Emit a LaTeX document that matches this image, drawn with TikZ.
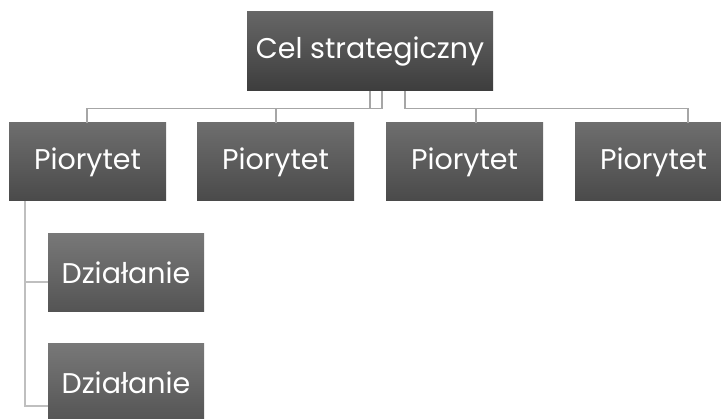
\documentclass[tikz,border=0pt]{standalone}
\usepackage{fontspec}
\setmainfont{Poppins}
\definecolor{linegray}{HTML}{A6A6A6}
\definecolor{linelight}{HTML}{BFBFBF}
\begin{document}
\begin{tikzpicture}[x=1pt,y=-1pt,
  box/.style={draw=none,minimum height=79pt,inner sep=0pt,text=white,font=\fontsize{28.5}{32}\selectfont},
  topbox/.style={box,minimum width=246pt,top color=black!60,bottom color=black!76},
  pbox/.style={box,minimum width=157pt,minimum height=78pt,top color=black!57,bottom color=black!71},
  dbox/.style={box,minimum width=156pt,minimum height=78pt,top color=black!53,bottom color=black!67},
  conn/.style={draw=linegray,line width=1.5pt},
  connl/.style={draw=linelight,line width=1.5pt}]
\clip (0,0) rectangle (721,419);
\fill[white] (0,0) rectangle (721,419);
% x positions of connectors
\coordinate (a1) at (370,0);
\coordinate (a2) at (382,0);
\coordinate (a3) at (405,0);
\coordinate (a4) at (405,0);
\coordinate (b1) at (87,0);
\coordinate (b2) at (276,0);
\coordinate (b3) at (476,0);
\coordinate (b4) at (688,0);
\coordinate (hy) at (0,108.5);
\coordinate (lx) at (25,0);
\coordinate (h1) at (0,282);
\coordinate (h2) at (0,406);
\node[topbox] (top) at (370,51.5) {Cel strategiczny};
\node[pbox] (p1) at (87.5,162) {Piorytet};
\node[pbox] (p2) at (275.5,162) {Piorytet};
\node[pbox] (p3) at (464.5,162) {Piorytet};
\node[pbox] (p4) at (653.5,162) {Piorytet};
\node[dbox] (d1) at (126,272.5) {Działanie};
\node[dbox] (d2) at (126,382.5) {Działanie};
\draw[conn] (top.south -| a1) -- (a1 |- hy) -- (b1 |- hy) -- (p1.north -| b1);
\draw[conn] (top.south -| a2) -- (a2 |- hy) -- (b2 |- hy) -- (p2.north -| b2);
\draw[conn] (top.south -| a3) -- (a3 |- hy) -- (b3 |- hy) -- (p3.north -| b3);
\draw[conn] (top.south -| a4) -- (a4 |- hy) -- (b4 |- hy) -- (p4.north -| b4);
\draw[connl] (p1.south -| lx) -- (lx |- h1) -- (d1.west |- h1);
\draw[connl] (p1.south -| lx) -- (lx |- h2) -- (d2.west |- h2);
\end{tikzpicture}
\end{document}
